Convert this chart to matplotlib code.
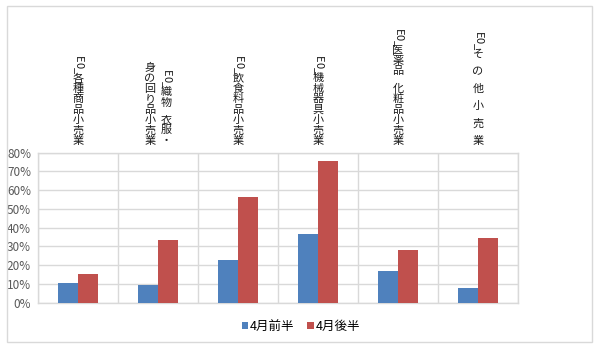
import matplotlib
matplotlib.use('Agg')
import matplotlib.pyplot as plt
from matplotlib.patches import Rectangle
from matplotlib.ticker import PercentFormatter
import numpy as np

plt.rcParams['font.family'] = ['Noto Sans CJK JP', 'DejaVu Sans']

# category labels, one string per label column (columns read right to left)
categories = [
    ['E0_各種商品小売業'],
    ['E0_織物 衣服・', '身の回り品小売業'],
    ['E0_飲食料品小売業'],
    ['E0_機械器具小売業'],
    ['E0_医薬品 化粧品小売業'],
    ['E0_そ の 他 小 売 業'],
]
series_names = ['4月前半', '4月後半']
first_half = [0.103, 0.094, 0.228, 0.365, 0.167, 0.080]
second_half = [0.153, 0.336, 0.562, 0.756, 0.281, 0.343]
yticks = [0, 0.1, 0.2, 0.3, 0.4, 0.5, 0.6, 0.7, 0.8]

W, H = 600, 348
BLUE = '#4f81bd'
RED = '#c0504d'
GRID = '#d9d9d9'


def fx(x):
    return x / W


def fy(y):
    return 1 - y / H


def vtext(fig, x, y_bottom, s, pitch=10.4, ascii_adv=5.4, space_adv=7.0, size=8):
    """draw text stacked vertically, bottom aligned at y_bottom (pixels)"""
    advs = []
    for ch in s:
        if ch == ' ':
            advs.append(space_adv)
        elif ord(ch) < 128:
            advs.append(ascii_adv)
        else:
            advs.append(pitch)
    y = y_bottom - sum(advs)
    for ch, a in zip(s, advs):
        if ch != ' ':
            rot = -90 if ord(ch) < 128 else 0
            fig.text(fx(x), fy(y + a / 2), ch, ha='center', va='center',
                     rotation=rot, fontsize=size, color='#1a1a1a')
        y += a


fig = plt.figure(figsize=(6, 3.48), dpi=100)
fig.patches.append(Rectangle((fx(7), fy(342)), fx(585), (342 - 6) / H,
                             transform=fig.transFigure, fill=False,
                             edgecolor=GRID, lw=1.0))

ax = fig.add_axes([fx(38), fy(302.7), fx(480), (302.7 - 152.7) / H])
x = np.arange(len(categories))
b1 = ax.bar(x - 0.125, first_half, 0.25, color=BLUE, label=series_names[0], zorder=3)
b2 = ax.bar(x + 0.125, second_half, 0.25, color=RED, label=series_names[1], zorder=3)

ax.set_xlim(-0.5, len(categories) - 0.5)
ax.set_ylim(0, 0.8)
ax.set_yticks(yticks)
ax.yaxis.set_major_formatter(PercentFormatter(1.0, decimals=0))
ax.set_xticks(np.arange(-0.5, len(categories), 1))
ax.set_xticklabels([])
ax.tick_params(length=0)
ax.tick_params(axis='y', pad=5, labelsize=8.5, labelcolor='#595959')
ax.grid(True, color=GRID, lw=1.0)
ax.set_axisbelow(True)
for sp in ax.spines.values():
    sp.set_color(GRID)
    sp.set_linewidth(1.0)

# vertical category labels above the plot
for i, cols in enumerate(categories):
    xc = 78 + 80 * i
    n = len(cols)
    for j, col in enumerate(cols):
        xcol = xc + (n - 1) * 8 - 16 * j
        vtext(fig, xcol, 146, col)

fig.legend(handles=[b1, b2], loc='center', bbox_to_anchor=(fx(301), fy(326)),
           ncol=2, frameon=False, fontsize=9, handlelength=0.5,
           handleheight=0.5, handletextpad=0.2, columnspacing=1.0)

fig.savefig('out.png', dpi=100)
